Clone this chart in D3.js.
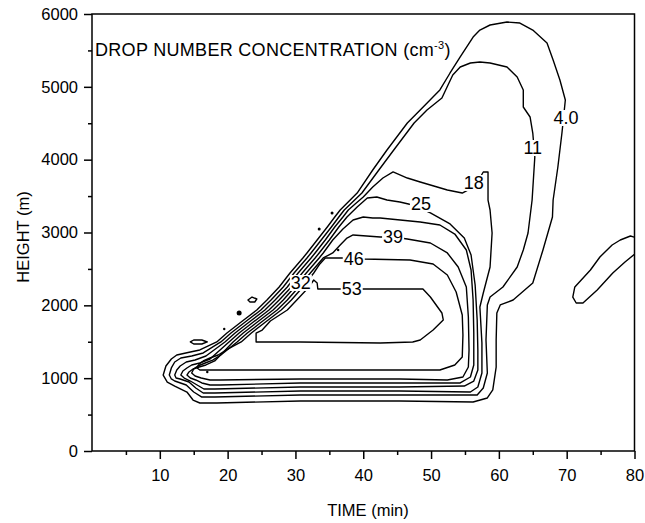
<!DOCTYPE html>
<html lang="en">
<head>
<meta charset="UTF-8">
<title>Drop number concentration</title>
<style>
  body { margin: 0; background: #fff; }
  svg { display: block; font-family: "Liberation Sans", Arial, sans-serif; }
  .contour { fill: none; stroke: #000; stroke-width: 1.4px; stroke-linejoin: round; }
  .axis text { font-size: 16.5px; fill: #000; font-family: "Liberation Sans", Arial, sans-serif; }
  .axis line { stroke: #000; stroke-width: 1.5px; }
  .axis path { display: none; }
  .clabel { font-size: 18px; fill: #000; }
</style>
</head>
<body>
<script src="https://cdn.jsdelivr.net/npm/d3@7"></script>
<script>
// axis ticks
const xTicks = [10, 20, 30, 40, 50, 60, 70, 80];
const xMinor = [5, 15, 25, 35, 45, 55, 65, 75];
const yTicks = [0, 1000, 2000, 3000, 4000, 5000, 6000];
const yMinor = [500, 1500, 2500, 3500, 4500, 5500];

// contour lines, [time (min), height (m)]
const c4 = [[10.5,1043],[10.9,1167],[11.7,1263],[12.5,1318],[14.5,1359],[15.9,1387],[18.4,1497],[19.9,1620],
  [21.8,1757],[24.3,1936],[25.8,2073],[27.6,2252],[29.2,2444],[31.1,2650],[31.7,2719],[33.2,2897],[34.7,3076],
  [35.8,3213],[36.6,3309],[39.1,3542],[41.4,3858],[43.5,4133],[46.5,4503],[48.4,4682],[51.3,4957],[52.8,5190],
  [54.3,5410],[56.2,5684],[57.2,5780],[58.7,5849],[61.2,5890],[63.1,5876],[65.0,5780],[67.1,5602],[68.0,5368],
  [69.0,5094],[69.8,4819],[69.5,4545],[69.3,4366],[68.7,3899],[68.0,3446],[67.9,3213],[66.5,2760],[65.0,2307],
  [62.1,2073],[60.2,2005],[59.7,1895],[59.6,1524],[59.6,1153],[59.1,838],[58.3,728],[56.2,673],[45.4,687],
  [30.7,687],[18.4,659],[15.9,659],[14.9,700],[14.0,810],[12.2,892],[11.1,947]];

const c11 = [[11.4,1043],[11.7,1140],[12.2,1222],[13.1,1277],[14.7,1304],[16.4,1346],[19.0,1497],[20.5,1620],
  [22.4,1757],[24.9,1936],[26.4,2073],[28.2,2252],[29.8,2444],[31.7,2650],[32.3,2719],[33.8,2897],[35.3,3076],
  [36.4,3213],[37.2,3309],[39.8,3542],[42.3,3858],[44.5,4133],[47.5,4503],[49.4,4682],[51.6,4847],[52.5,5025],
  [53.2,5162],[54.3,5272],[55.8,5327],[57.2,5341],[58.7,5327],[61.2,5272],[62.7,5135],[63.6,4957],[63.6,4723],
  [64.6,4586],[65.0,4366],[65.3,4037],[64.9,3446],[64.3,2993],[63.6,2760],[62.7,2526],[60.6,2252],[58.7,2114],
  [58.3,2005],[58.1,1524],[58.3,1071],[57.7,865],[56.8,769],[45.4,769],[30.7,769],[18.1,741],[16.2,741],
  [15.0,810],[13.9,906],[12.2,961],[11.7,989]];

const c18 = [[12.2,1043],[12.5,1112],[13.0,1167],[13.9,1222],[15.2,1249],[16.8,1304],[19.6,1497],[21.1,1620],
  [23.0,1757],[25.5,1936],[27.0,2073],[28.8,2252],[30.4,2444],[32.3,2650],[32.9,2719],[34.4,2897],[35.8,3076],
  [37.0,3213],[37.8,3309],[38.8,3391],[40.0,3487],[41.4,3625],[42.9,3748],[44.4,3831],[46.5,3748],[48.4,3693],
  [52.4,3584],[54.6,3542],[56.5,3638],[57.7,3831],[58.4,3831],[58.4,3446],[58.7,3309],[59.0,2993],[58.7,2526],
  [57.7,2169],[57.2,1977],[57.5,1483],[57.5,1071],[56.9,879],[55.8,810],[45.4,824],[30.7,824],[18.1,796],
  [16.4,796],[15.3,865],[14.3,947],[13.0,989],[12.4,1002]];

const c25 = [[13.1,1043],[13.4,1098],[14.0,1140],[14.7,1181],[15.9,1208],[17.4,1263],[20.2,1497],[21.7,1620],
  [23.6,1757],[26.1,1936],[27.6,2073],[29.4,2252],[31.0,2444],[32.9,2650],[33.5,2719],[35.0,2897],[36.4,3076],
  [37.6,3213],[39.1,3350],[40.6,3474],[42.0,3487],[43.5,3446],[45.4,3419],[47.3,3378],[49.9,3268],[52.8,3117],
  [54.9,2924],[55.9,2691],[56.5,2279],[56.8,1799],[56.9,1387],[56.9,1112],[56.3,961],[54.9,892],[45.4,879],
  [30.7,879],[18.1,851],[16.5,851],[15.5,906],[14.5,961],[13.6,1002]];

const c32 = [[14.0,1043],[14.3,1085],[14.9,1126],[15.8,1153],[16.8,1181],[18.1,1236],[20.8,1497],[22.3,1620],
  [24.2,1757],[26.7,1936],[28.2,2073],[29.9,2252],[31.6,2444],[33.5,2650],[34.1,2719],[35.5,2897],[37.0,3048],
  [38.5,3172],[40.0,3213],[41.4,3199],[42.5,3199],[48.4,3144],[51.3,3103],[53.5,2979],[55.2,2760],[55.9,2485],
  [56.2,2073],[56.3,1620],[56.3,1181],[55.8,1016],[54.3,934],[45.4,934],[30.7,934],[18.9,906],[17.4,906],
  [16.2,934],[15.3,975],[14.5,1002]];

const c39 = [[14.7,1071],[15.0,1126],[15.6,1167],[16.7,1208],[17.8,1249],[19.0,1318],[21.4,1497],[22.9,1620],
  [24.8,1757],[27.3,1936],[28.8,2073],[30.5,2252],[32.2,2444],[34.1,2650],[35.5,2719],[36.6,2828],[37.6,2924],
  [38.5,2966],[42.5,2938],[44.4,2938],[46.5,2911],[49.9,2856],[52.4,2719],[54.0,2526],[55.2,2252],[55.5,1840],
  [55.6,1387],[55.5,1153],[54.7,1016],[52.4,975],[45.4,989],[30.7,989],[18.9,975],[17.4,975],[16.1,1002],
  [15.2,1030]];

const c46 = [[15.5,1140],[15.8,1195],[16.4,1236],[17.4,1277],[18.6,1318],[19.8,1387],[22.0,1497],[23.5,1620],
  [25.4,1757],[27.9,1936],[29.4,2073],[31.1,2252],[32.7,2444],[33.6,2568],[34.4,2650],[38.3,2650],[40.0,2636],
  [46.9,2622],[50.3,2568],[52.4,2416],[53.7,2183],[54.6,1867],[54.7,1593],[54.6,1291],[53.5,1181],[51.3,1112],
  [45.4,1112],[30.7,1112],[20.4,1112],[17.4,1112],[15.9,1112]];

const c53 = [[24.2,1497],[24.2,1620],[25.1,1661],[26.3,1785],[28.8,1936],[30.2,2073],[32.0,2252],[32.7,2348],
  [33.2,2307],[33.3,2224],[36.6,2224],[42.5,2224],[48.8,2224],[49.9,2114],[51.6,1895],[51.8,1799],[50.3,1661],
  [48.4,1524],[47.3,1497],[42.5,1483],[30.7,1497],[25.0,1497]];

// small closed 4.0 region at right edge and small cells near the leading edge
const cRight = [[70.9,2114],[71.2,2252],[73.5,2485],[74.9,2664],[76.7,2828],[77.9,2897],[79.4,2952],[80.4,2924],
  [80.8,2828],[80.4,2732],[78.6,2595],[76.8,2444],[74.5,2211],[72.4,2032],[71.4,2032]];
const cCellA = [[14.5,1497],[15.0,1524],[16.2,1524],[17.0,1497],[16.2,1469],[15.0,1469]];
const cCellB = [[23.0,2073],[23.6,2114],[24.3,2087],[24.0,2046],[23.3,2046]];

const contours = [c4, c11, c18, c25, c32, c39, c46, c53, cRight, cCellA, cCellB];

const speckleTime = [35.4, 33.5, 21.7, 19.5, 17.0, 36.3];
const speckleHeight = [3268, 3048, 1895, 1675, 1085, 2760];
const speckleSize = [1.5, 1.5, 2.5, 1.2, 1.2, 1.2];

// contour labels
const labelText = ["4.0", "11", "18", "25", "32", "39", "46", "53"];
const labelTime = [69.9, 65.0, 56.3, 48.5, 30.8, 44.4, 38.6, 38.3];
const labelHeight = [4572, 4160, 3680, 3391, 2307, 2938, 2636, 2224];

const width = 645, height = 523;
const padL = 92, padR = 634.5, padT = 14, padB = 451;

const x = d3.scaleLinear().domain([0, 80]).range([padL, padR]);
const y = d3.scaleLinear().domain([0, 6000]).range([padB, padT]);

const svg = d3.select("body").append("svg").attr("width", width).attr("height", height);

svg.append("defs").append("clipPath").attr("id", "plot")
  .append("rect").attr("x", padL).attr("y", padT).attr("width", padR - padL).attr("height", padB - padT);

const line = d3.line().x(d => x(d[0])).y(d => y(d[1])).curve(d3.curveLinearClosed);

const plot = svg.append("g").attr("clip-path", "url(#plot)");
plot.selectAll("path.contour").data(contours).enter().append("path")
  .attr("class", "contour")
  .attr("d", line);

plot.selectAll("circle.speck").data(speckleTime).enter().append("circle")
  .attr("cx", d => x(d))
  .attr("cy", (d, i) => y(speckleHeight[i]))
  .attr("r", (d, i) => speckleSize[i])
  .attr("fill", "#000");

// labels sit on a white patch that breaks the line
const lab = svg.append("g");
labelText.forEach((t, i) => {
  const g = lab.append("g");
  const txt = g.append("text").attr("class", "clabel")
    .attr("x", x(labelTime[i])).attr("y", y(labelHeight[i]))
    .attr("text-anchor", "middle").attr("dominant-baseline", "central")
    .text(t);
  const b = txt.node().getBBox();
  g.insert("rect", "text")
    .attr("x", b.x - 1).attr("y", b.y + 2).attr("width", b.width + 2).attr("height", b.height - 4)
    .attr("fill", "#fff");
});

// axes
const fmt = d3.format("d");
svg.append("g").attr("class", "axis").attr("transform", `translate(0,${padB})`)
  .call(d3.axisBottom(x).tickValues(xTicks).tickFormat(fmt).tickSize(8).tickPadding(10).tickSizeOuter(0));
svg.append("g").attr("class", "axis").attr("transform", `translate(0,${padB})`)
  .call(d3.axisBottom(x).tickValues(xMinor).tickSize(4).tickFormat("").tickSizeOuter(0));
svg.append("g").attr("class", "axis").attr("transform", `translate(${padL},0)`)
  .call(d3.axisLeft(y).tickValues(yTicks).tickFormat(fmt).tickSize(8).tickPadding(6).tickSizeOuter(0));
svg.append("g").attr("class", "axis").attr("transform", `translate(${padL},0)`)
  .call(d3.axisLeft(y).tickValues(yMinor).tickSize(4).tickFormat("").tickSizeOuter(0));

svg.append("rect")
  .attr("x", padL).attr("y", padT).attr("width", padR - padL).attr("height", padB - padT)
  .attr("fill", "none").attr("stroke", "#000").attr("stroke-width", 1.5);

// titles
const title = svg.append("text").attr("x", 95).attr("y", 56)
  .attr("font-size", 18).attr("letter-spacing", 0.3);
title.append("tspan").text("DROP NUMBER CONCENTRATION (cm");
title.append("tspan").attr("font-size", 11).attr("dy", -7).text("-3");
title.append("tspan").attr("dy", 7).text(")");

svg.append("text").attr("x", 368).attr("y", 516).attr("text-anchor", "middle")
  .attr("font-size", 16.5).text("TIME (min)");
svg.append("text").attr("transform", "translate(29,237) rotate(-90)").attr("text-anchor", "middle")
  .attr("font-size", 16.5).text("HEIGHT (m)");
</script>
</body>
</html>
